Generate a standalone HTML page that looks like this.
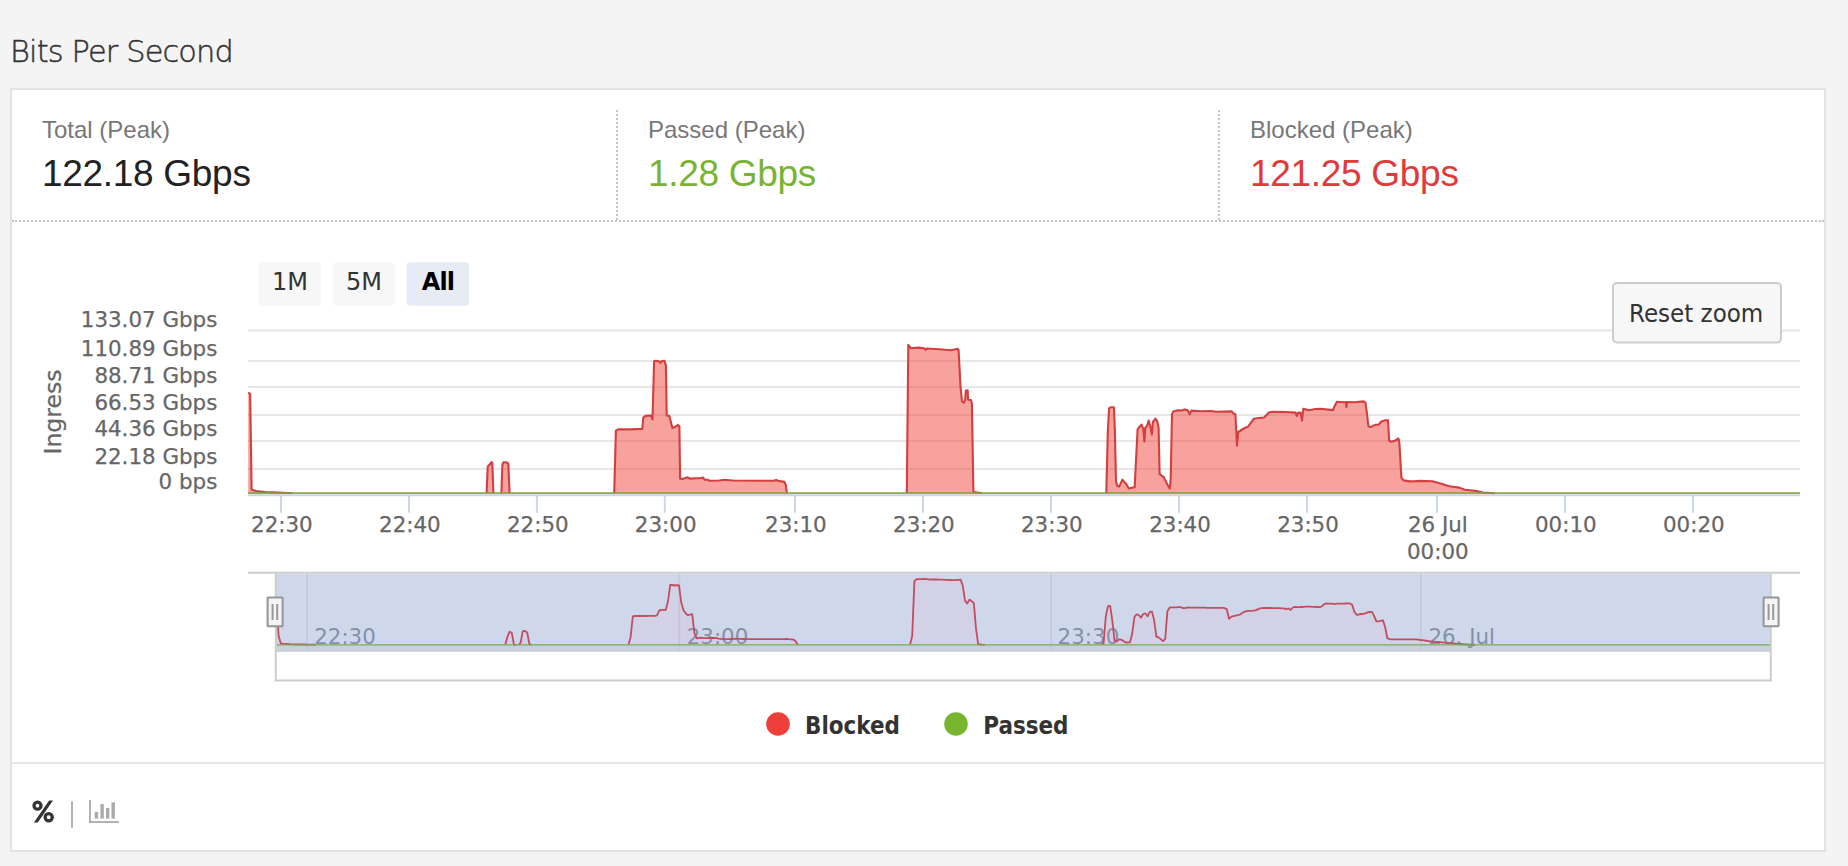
<!DOCTYPE html>
<html><head><meta charset="utf-8"><title>Bits Per Second</title>
<style>
*{box-sizing:border-box;margin:0;padding:0}
html,body{width:1848px;height:866px;overflow:hidden;background:#f4f4f4;font-family:"Liberation Sans",sans-serif}
.title{position:absolute;left:10px;top:34px;font-family:"DejaVu Sans",sans-serif;font-weight:200;font-size:30.4px;letter-spacing:-0.85px;color:#333;-webkit-text-stroke:0.45px #333;white-space:nowrap}
.card{position:absolute;left:10px;top:88px;width:1816px;height:764px;border:2px solid #e2e2e2;background:#fff}
.stats{position:absolute;left:0;top:0;width:1812px;height:132px;border-bottom:2px dotted #c4c4c4}
.sep{position:absolute;top:20px;height:110px;border-left:2px dotted #c4c4c4}
.lbl{position:absolute;font-size:24px;color:#777;white-space:nowrap}
.val{position:absolute;font-size:37px;letter-spacing:-0.3px;color:#222;white-space:nowrap}
.divider{position:absolute;left:0;top:672px;width:1812px;height:2px;background:#e6e6e6}
svg text{font-family:"DejaVu Sans",sans-serif}
svg .ax{font-size:21.4px;fill:#666;stroke:#666;stroke-width:0.25px}
svg .btn{font-size:24px;fill:#333}
svg .btn.b{font-weight:bold;fill:#000;letter-spacing:-0.9px}
svg .rz{font-family:"DejaVu Sans Condensed","DejaVu Sans",sans-serif;font-size:25.6px;fill:#333}
svg .nav{font-size:21.4px;fill:#8490a5}
svg .leg{font-family:"DejaVu Sans Condensed","DejaVu Sans",sans-serif;font-weight:bold;font-size:23.9px;fill:#333}
svg .ing{font-size:23.6px}
.pct{position:absolute;left:31px;top:795px;font-family:"DejaVu Sans",sans-serif;font-weight:bold;font-size:30px;color:#333}
</style></head><body>
<div class="title">Bits Per Second</div>
<div class="card">
  <div class="stats">
    <div class="lbl" style="left:30px;top:26px">Total (Peak)</div>
    <div class="val" style="left:30px;top:63px">122.18 Gbps</div>
    <div class="sep" style="left:604px"></div>
    <div class="lbl" style="left:636px;top:26px">Passed (Peak)</div>
    <div class="val" style="left:636px;top:63px;color:#7ab332">1.28 Gbps</div>
    <div class="sep" style="left:1205.5px"></div>
    <div class="lbl" style="left:1238px;top:26px">Blocked (Peak)</div>
    <div class="val" style="left:1238px;top:63px;color:#e03a3c">121.25 Gbps</div>
  </div>
  <div class="divider"></div>
</div>
<svg width="1848" height="866" style="position:absolute;left:0;top:0">
<rect x="258.5" y="262.6" width="62.5" height="42.8" rx="3" fill="#f7f7f7"/>
<rect x="332.8" y="262.6" width="62.2" height="42.8" rx="3" fill="#f7f7f7"/>
<rect x="406.6" y="262.2" width="62.4" height="43.6" rx="3" fill="#e6ebf5"/>
<text x="290" y="290.2" class="btn" text-anchor="middle">1M</text>
<text x="364" y="290.2" class="btn" text-anchor="middle">5M</text>
<text x="438" y="290.2" class="btn b" text-anchor="middle">All</text>
<line x1="248" x2="1800" y1="330.5" y2="330.5" stroke="#e6e6e6" stroke-width="2"/>
<line x1="248" x2="1800" y1="361" y2="361" stroke="#e6e6e6" stroke-width="2"/>
<line x1="248" x2="1800" y1="387" y2="387" stroke="#e6e6e6" stroke-width="2"/>
<line x1="248" x2="1800" y1="415" y2="415" stroke="#e6e6e6" stroke-width="2"/>
<line x1="248" x2="1800" y1="441" y2="441" stroke="#e6e6e6" stroke-width="2"/>
<line x1="248" x2="1800" y1="469" y2="469" stroke="#e6e6e6" stroke-width="2"/>
<polygon points="248.2,494.2 248.2,392.5 250.2,394.0 251.6,489.4 256.0,491.0 265.0,492.0 278.6,492.6 292.0,493.2 486.6,493.2 487.7,466.7 491.5,462.2 492.3,462.6 493.4,493.2 501.4,493.2 502.4,464.5 503.5,462.3 506.0,462.3 508.3,463.5 509.6,493.2 614.2,493.2 615.9,430.6 618.2,429.4 630.0,429.4 642.3,428.9 643.3,417.6 645.4,415.9 651.1,415.5 652.5,419.3 654.1,361.3 655.5,360.7 659.0,361.2 660.5,362.8 662.0,361.0 664.5,360.7 665.9,365.6 666.7,415.5 669.3,415.9 671.1,422.8 672.4,428.0 676.3,426.3 678.0,424.9 679.4,426.3 680.1,478.7 682.3,479.0 687.7,477.3 689.8,478.6 701.0,478.0 703.1,477.6 704.5,479.7 707.4,479.7 709.5,480.8 719.3,480.5 724.2,479.7 732.7,480.5 773.5,480.8 776.5,480.0 777.7,480.7 784.4,481.9 785.8,485.0 786.9,493.2 906.8,493.2 908.3,344.9 911.0,348.3 918.6,347.6 924.3,348.3 925.5,349.9 927.0,348.5 939.5,349.3 945.0,349.8 951.0,350.2 957.6,348.7 958.6,350.2 960.5,386.4 962.0,401.3 963.9,402.6 965.2,399.8 965.8,390.6 967.7,390.2 968.1,399.8 971.0,400.1 971.9,403.6 973.4,492.1 975.7,492.3 982.0,493.2 1106.3,493.2 1107.8,431.9 1109.1,408.4 1111.0,407.2 1113.9,407.2 1114.8,428.1 1116.0,481.5 1117.3,485.9 1119.2,486.6 1122.4,479.6 1124.3,482.1 1126.2,484.0 1128.8,488.5 1131.9,487.8 1134.7,487.2 1135.7,466.2 1137.6,429.4 1138.9,427.5 1141.5,424.6 1143.4,429.4 1144.4,441.5 1145.3,427.5 1146.9,426.2 1148.7,420.5 1150.4,426.8 1151.9,434.5 1152.9,421.8 1155.4,418.6 1157.3,421.1 1158.6,428.1 1159.6,473.9 1161.8,475.8 1163.7,477.0 1165.6,480.9 1168.1,485.9 1169.8,488.5 1170.7,478.9 1172.0,414.1 1173.2,411.6 1177.7,410.3 1181.5,410.6 1184.8,409.4 1187.7,410.2 1189.7,414.2 1191.3,410.6 1200.2,411.2 1210.7,411.0 1216.4,411.7 1231.7,411.4 1233.3,413.4 1235.4,414.2 1237.0,445.8 1238.2,432.0 1244.6,428.0 1247.9,426.8 1253.5,419.1 1256.8,418.3 1264.0,417.5 1268.9,412.6 1272.9,411.7 1285.0,412.0 1295.6,412.6 1296.9,416.0 1298.2,412.6 1300.7,412.9 1302.0,420.5 1303.3,408.8 1309.0,410.3 1315.3,409.0 1320.4,408.8 1333.1,410.1 1334.4,406.5 1336.9,401.7 1343.3,402.2 1345.8,402.1 1346.4,407.1 1347.0,402.1 1354.7,402.2 1363.6,401.4 1365.5,402.7 1366.7,411.6 1368.4,426.2 1370.6,427.1 1375.0,424.9 1378.8,424.5 1381.3,421.5 1385.2,420.2 1388.0,420.2 1389.2,440.8 1391.5,441.8 1395.3,440.5 1398.5,438.5 1399.4,443.3 1401.4,477.6 1403.6,480.4 1409.3,481.4 1415.0,481.2 1419.3,480.9 1432.3,481.3 1441.4,483.7 1449.2,486.3 1459.5,487.6 1464.7,489.7 1475.1,490.8 1482.9,492.5 1494.6,493.2 1800.0,493.2 1800.0,494.2" fill="rgba(241,70,60,0.5)"/>
<path d="M248.2,392.5 L250.2,394.0 L251.6,489.4 L256.0,491.0 L265.0,492.0 L278.6,492.6 L292.0,493.2 M486.6,493.2 L487.7,466.7 L491.5,462.2 L492.3,462.6 L493.4,493.2 M501.4,493.2 L502.4,464.5 L503.5,462.3 L506.0,462.3 L508.3,463.5 L509.6,493.2 M614.2,493.2 L615.9,430.6 L618.2,429.4 L630.0,429.4 L642.3,428.9 L643.3,417.6 L645.4,415.9 L651.1,415.5 L652.5,419.3 L654.1,361.3 L655.5,360.7 L659.0,361.2 L660.5,362.8 L662.0,361.0 L664.5,360.7 L665.9,365.6 L666.7,415.5 L669.3,415.9 L671.1,422.8 L672.4,428.0 L676.3,426.3 L678.0,424.9 L679.4,426.3 L680.1,478.7 L682.3,479.0 L687.7,477.3 L689.8,478.6 L701.0,478.0 L703.1,477.6 L704.5,479.7 L707.4,479.7 L709.5,480.8 L719.3,480.5 L724.2,479.7 L732.7,480.5 L773.5,480.8 L776.5,480.0 L777.7,480.7 L784.4,481.9 L785.8,485.0 L786.9,493.2 M906.8,493.2 L908.3,344.9 L911.0,348.3 L918.6,347.6 L924.3,348.3 L925.5,349.9 L927.0,348.5 L939.5,349.3 L945.0,349.8 L951.0,350.2 L957.6,348.7 L958.6,350.2 L960.5,386.4 L962.0,401.3 L963.9,402.6 L965.2,399.8 L965.8,390.6 L967.7,390.2 L968.1,399.8 L971.0,400.1 L971.9,403.6 L973.4,492.1 L975.7,492.3 L982.0,493.2 M1106.3,493.2 L1107.8,431.9 L1109.1,408.4 L1111.0,407.2 L1113.9,407.2 L1114.8,428.1 L1116.0,481.5 L1117.3,485.9 L1119.2,486.6 L1122.4,479.6 L1124.3,482.1 L1126.2,484.0 L1128.8,488.5 L1131.9,487.8 L1134.7,487.2 L1135.7,466.2 L1137.6,429.4 L1138.9,427.5 L1141.5,424.6 L1143.4,429.4 L1144.4,441.5 L1145.3,427.5 L1146.9,426.2 L1148.7,420.5 L1150.4,426.8 L1151.9,434.5 L1152.9,421.8 L1155.4,418.6 L1157.3,421.1 L1158.6,428.1 L1159.6,473.9 L1161.8,475.8 L1163.7,477.0 L1165.6,480.9 L1168.1,485.9 L1169.8,488.5 L1170.7,478.9 L1172.0,414.1 L1173.2,411.6 L1177.7,410.3 L1181.5,410.6 L1184.8,409.4 L1187.7,410.2 L1189.7,414.2 L1191.3,410.6 L1200.2,411.2 L1210.7,411.0 L1216.4,411.7 L1231.7,411.4 L1233.3,413.4 L1235.4,414.2 L1237.0,445.8 L1238.2,432.0 L1244.6,428.0 L1247.9,426.8 L1253.5,419.1 L1256.8,418.3 L1264.0,417.5 L1268.9,412.6 L1272.9,411.7 L1285.0,412.0 L1295.6,412.6 L1296.9,416.0 L1298.2,412.6 L1300.7,412.9 L1302.0,420.5 L1303.3,408.8 L1309.0,410.3 L1315.3,409.0 L1320.4,408.8 L1333.1,410.1 L1334.4,406.5 L1336.9,401.7 L1343.3,402.2 L1345.8,402.1 L1346.4,407.1 L1347.0,402.1 L1354.7,402.2 L1363.6,401.4 L1365.5,402.7 L1366.7,411.6 L1368.4,426.2 L1370.6,427.1 L1375.0,424.9 L1378.8,424.5 L1381.3,421.5 L1385.2,420.2 L1388.0,420.2 L1389.2,440.8 L1391.5,441.8 L1395.3,440.5 L1398.5,438.5 L1399.4,443.3 L1401.4,477.6 L1403.6,480.4 L1409.3,481.4 L1415.0,481.2 L1419.3,480.9 L1432.3,481.3 L1441.4,483.7 L1449.2,486.3 L1459.5,487.6 L1464.7,489.7 L1475.1,490.8 L1482.9,492.5 L1494.6,493.2 M1800.0,493.2" fill="none" stroke="#d23f40" stroke-width="2.1" stroke-linejoin="round"/>
<line x1="248" x2="1800" y1="493.0" y2="493.0" stroke="#7da645" stroke-width="1.4"/>
<line x1="248" x2="1800" y1="495.2" y2="495.2" stroke="#ccd6eb" stroke-width="2"/>
<line x1="281.0" x2="281.0" y1="495" y2="512.8" stroke="#ccd6eb" stroke-width="2"/>
<line x1="409.0" x2="409.0" y1="495" y2="512.8" stroke="#ccd6eb" stroke-width="2"/>
<line x1="536.9" x2="536.9" y1="495" y2="512.8" stroke="#ccd6eb" stroke-width="2"/>
<line x1="664.8" x2="664.8" y1="495" y2="512.8" stroke="#ccd6eb" stroke-width="2"/>
<line x1="795.0" x2="795.0" y1="495" y2="512.8" stroke="#ccd6eb" stroke-width="2"/>
<line x1="923.0" x2="923.0" y1="495" y2="512.8" stroke="#ccd6eb" stroke-width="2"/>
<line x1="1050.9" x2="1050.9" y1="495" y2="512.8" stroke="#ccd6eb" stroke-width="2"/>
<line x1="1179.1" x2="1179.1" y1="495" y2="512.8" stroke="#ccd6eb" stroke-width="2"/>
<line x1="1307.1" x2="1307.1" y1="495" y2="512.8" stroke="#ccd6eb" stroke-width="2"/>
<line x1="1436.9" x2="1436.9" y1="495" y2="512.8" stroke="#ccd6eb" stroke-width="2"/>
<line x1="1564.9" x2="1564.9" y1="495" y2="512.8" stroke="#ccd6eb" stroke-width="2"/>
<line x1="1692.9" x2="1692.9" y1="495" y2="512.8" stroke="#ccd6eb" stroke-width="2"/>
<text x="281.9" y="531.6" class="ax" text-anchor="middle">22:30</text>
<text x="409.9" y="531.6" class="ax" text-anchor="middle">22:40</text>
<text x="537.8" y="531.6" class="ax" text-anchor="middle">22:50</text>
<text x="665.7" y="531.6" class="ax" text-anchor="middle">23:00</text>
<text x="795.9" y="531.6" class="ax" text-anchor="middle">23:10</text>
<text x="923.9" y="531.6" class="ax" text-anchor="middle">23:20</text>
<text x="1051.8" y="531.6" class="ax" text-anchor="middle">23:30</text>
<text x="1180.0" y="531.6" class="ax" text-anchor="middle">23:40</text>
<text x="1308.0" y="531.6" class="ax" text-anchor="middle">23:50</text>
<text x="1437.8" y="531.6" class="ax" text-anchor="middle">26 Jul</text>
<text x="1565.8" y="531.6" class="ax" text-anchor="middle">00:10</text>
<text x="1693.8" y="531.6" class="ax" text-anchor="middle">00:20</text>
<text x="1437.8" y="559.2" class="ax" text-anchor="middle">00:00</text>
<text x="217.3" y="327.4" class="ax" text-anchor="end">133.07 Gbps</text>
<text x="217.3" y="356.4" class="ax" text-anchor="end">110.89 Gbps</text>
<text x="217.3" y="382.6" class="ax" text-anchor="end">88.71 Gbps</text>
<text x="217.3" y="409.6" class="ax" text-anchor="end">66.53 Gbps</text>
<text x="217.3" y="435.8" class="ax" text-anchor="end">44.36 Gbps</text>
<text x="217.3" y="463.6" class="ax" text-anchor="end">22.18 Gbps</text>
<text x="217.3" y="489.2" class="ax" text-anchor="end">0 bps</text>
<text class="ax ing" transform="translate(60.5,412) rotate(-90)" text-anchor="middle">Ingress</text>
<rect x="1613" y="283" width="168" height="59.5" rx="4" fill="#f7f7f7" stroke="#cccccc" stroke-width="2"/>
<text x="1696.2" y="322.4" class="rz" text-anchor="middle">Reset zoom</text>
<line x1="248" x2="1800" y1="572.8" y2="572.8" stroke="#cccccc" stroke-width="2"/>
<rect x="275.0" y="573.5" width="1496.0" height="78" fill="#cfd8ea"/>
<rect x="275.0" y="645.5" width="1496.0" height="6.2" fill="#c8d0dc"/>
<line x1="307.1" x2="307.1" y1="573.5" y2="651.5" stroke="#c2cadb" stroke-width="1.6"/>
<line x1="679.4" x2="679.4" y1="573.5" y2="651.5" stroke="#c2cadb" stroke-width="1.6"/>
<line x1="1051.2" x2="1051.2" y1="573.5" y2="651.5" stroke="#c2cadb" stroke-width="1.6"/>
<line x1="1420.9" x2="1420.9" y1="573.5" y2="651.5" stroke="#c2cadb" stroke-width="1.6"/>
<text x="314.2" y="643.6" class="nav">22:30</text>
<text x="686.7" y="643.6" class="nav">23:00</text>
<text x="1057.6" y="643.6" class="nav">23:30</text>
<text x="1428.4" y="643.6" class="nav">26. Jul</text>
<polygon points="275.0,644.8 275.5,600.5 276.4,600.5 278.6,635.8 280.8,643.5 283.0,643.8 285.2,643.9 287.4,644.0 289.6,644.2 291.8,644.3 294.0,644.3 296.2,644.4 298.4,644.4 300.6,644.4 302.8,644.5 305.0,644.5 307.2,644.6 309.4,644.6 311.6,644.7 313.8,644.7 316.0,644.8 318.2,644.8 320.4,644.8 322.6,644.8 324.8,644.8 327.0,644.8 329.2,644.8 331.4,644.8 333.6,644.8 335.8,644.8 338.0,644.8 340.2,644.8 342.4,644.8 344.6,644.8 346.8,644.8 349.0,644.8 351.2,644.8 353.4,644.8 355.6,644.8 357.8,644.8 360.0,644.8 362.2,644.8 364.4,644.8 366.6,644.8 368.8,644.8 371.0,644.8 373.2,644.8 375.4,644.8 377.6,644.8 379.8,644.8 382.0,644.8 384.2,644.8 386.4,644.8 388.6,644.8 390.8,644.8 393.0,644.8 395.2,644.8 397.4,644.8 399.6,644.8 401.8,644.8 404.0,644.8 406.2,644.8 408.4,644.8 410.6,644.8 412.8,644.8 415.0,644.8 417.2,644.8 419.4,644.8 421.6,644.8 423.8,644.8 426.0,644.8 428.2,644.8 430.4,644.8 432.6,644.8 434.8,644.8 437.0,644.8 439.2,644.8 441.4,644.8 443.6,644.8 445.8,644.8 448.0,644.8 450.2,644.8 452.4,644.8 454.6,644.8 456.8,644.8 459.0,644.8 461.2,644.8 463.4,644.8 465.6,644.8 467.8,644.8 470.0,644.8 472.2,644.8 474.4,644.8 476.6,644.8 478.8,644.8 481.0,644.8 483.2,644.8 485.4,644.8 487.6,644.8 489.8,644.8 492.0,644.8 494.2,644.8 496.4,644.8 498.6,644.8 500.8,644.8 503.0,644.8 505.2,644.8 507.4,636.9 509.6,631.7 511.8,632.9 514.0,644.6 516.2,644.8 518.4,644.8 520.6,642.8 522.8,631.2 525.0,630.9 527.2,632.5 529.4,644.1 531.6,644.8 533.8,644.8 536.0,644.8 538.2,644.8 540.4,644.8 542.6,644.8 544.8,644.8 547.0,644.8 549.2,644.8 551.4,644.8 553.6,644.8 555.8,644.8 558.0,644.8 560.2,644.8 562.4,644.8 564.6,644.8 566.8,644.8 569.0,644.8 571.2,644.8 573.4,644.8 575.6,644.8 577.8,644.8 580.0,644.8 582.2,644.8 584.4,644.8 586.6,644.8 588.8,644.8 591.0,644.8 593.2,644.8 595.4,644.8 597.6,644.8 599.8,644.8 602.0,644.8 604.2,644.8 606.4,644.8 608.6,644.8 610.8,644.8 613.0,644.8 615.2,644.8 617.4,644.8 619.6,644.8 621.8,644.8 624.0,644.8 626.2,644.8 628.4,644.8 630.6,637.2 632.8,616.5 635.0,616.0 637.2,616.0 639.4,616.0 641.6,616.0 643.8,616.0 646.0,616.0 648.2,615.9 650.4,615.9 652.6,615.8 654.8,615.8 657.0,615.4 659.2,610.6 661.4,609.8 663.6,609.8 665.8,609.9 668.0,601.2 670.2,585.0 672.4,585.0 674.6,585.5 676.8,585.2 679.0,585.3 681.2,602.3 683.4,610.0 685.6,613.2 687.8,615.1 690.0,614.6 692.2,614.2 694.4,633.1 696.6,638.3 698.8,638.0 701.0,637.7 703.2,638.1 705.4,638.2 707.6,638.1 709.8,638.0 712.0,638.0 714.2,637.9 716.4,638.0 718.6,638.7 720.8,638.8 723.0,639.2 725.2,639.2 727.4,639.1 729.6,639.1 731.8,639.0 734.0,638.9 736.2,638.7 738.4,638.8 740.6,638.9 742.8,639.0 745.0,639.1 747.2,639.1 749.4,639.1 751.6,639.1 753.8,639.1 756.0,639.1 758.2,639.1 760.4,639.1 762.6,639.1 764.8,639.1 767.0,639.1 769.2,639.1 771.4,639.2 773.6,639.2 775.8,639.2 778.0,639.2 780.2,639.2 782.4,639.2 784.6,639.1 786.8,638.9 789.0,639.2 791.2,639.4 793.4,639.6 795.6,641.2 797.8,644.8 800.0,644.8 802.2,644.8 804.4,644.8 806.6,644.8 808.8,644.8 811.0,644.8 813.2,644.8 815.4,644.8 817.6,644.8 819.8,644.8 822.0,644.8 824.2,644.8 826.4,644.8 828.6,644.8 830.8,644.8 833.0,644.8 835.2,644.8 837.4,644.8 839.6,644.8 841.8,644.8 844.0,644.8 846.2,644.8 848.4,644.8 850.6,644.8 852.8,644.8 855.0,644.8 857.2,644.8 859.4,644.8 861.6,644.8 863.8,644.8 866.0,644.8 868.2,644.8 870.4,644.8 872.6,644.8 874.8,644.8 877.0,644.8 879.2,644.8 881.4,644.8 883.6,644.8 885.8,644.8 888.0,644.8 890.2,644.8 892.4,644.8 894.6,644.8 896.8,644.8 899.0,644.8 901.2,644.8 903.4,644.8 905.6,644.8 907.8,644.8 910.0,644.8 912.2,636.1 914.4,581.1 916.6,579.2 918.8,579.2 921.0,579.1 923.2,579.0 925.4,579.1 927.6,579.2 929.8,579.6 932.0,579.5 934.2,579.5 936.4,579.5 938.6,579.6 940.8,579.7 943.0,579.7 945.2,579.8 947.4,579.9 949.6,580.0 951.8,580.1 954.0,580.1 956.2,580.0 958.4,579.8 960.6,579.6 962.8,585.8 965.0,600.6 967.2,603.5 969.4,599.6 971.6,601.2 973.8,602.9 976.0,628.6 978.2,644.4 980.4,644.5 982.6,644.7 984.8,644.8 987.0,644.8 989.2,644.8 991.4,644.8 993.6,644.8 995.8,644.8 998.0,644.8 1000.2,644.8 1002.4,644.8 1004.6,644.8 1006.8,644.8 1009.0,644.8 1011.2,644.8 1013.4,644.8 1015.6,644.8 1017.8,644.8 1020.0,644.8 1022.2,644.8 1024.4,644.8 1026.6,644.8 1028.8,644.8 1031.0,644.8 1033.2,644.8 1035.4,644.8 1037.6,644.8 1039.8,644.8 1042.0,644.8 1044.2,644.8 1046.4,644.8 1048.6,644.8 1050.8,644.8 1053.0,644.8 1055.2,644.8 1057.4,644.8 1059.6,644.8 1061.8,644.8 1064.0,644.8 1066.2,644.8 1068.4,644.8 1070.6,644.8 1072.8,644.8 1075.0,644.8 1077.2,644.8 1079.4,644.8 1081.6,644.8 1083.8,644.8 1086.0,644.8 1088.2,644.8 1090.4,644.8 1092.6,644.8 1094.8,644.8 1097.0,644.8 1099.2,644.8 1101.4,644.8 1103.6,643.1 1105.8,616.3 1108.0,606.1 1110.2,605.9 1112.4,621.2 1114.6,641.1 1116.8,641.3 1119.0,639.3 1121.2,639.7 1123.4,640.9 1125.6,642.4 1127.8,642.5 1130.0,642.2 1132.2,633.6 1134.4,617.0 1136.6,614.4 1138.8,615.0 1141.0,617.7 1143.2,614.0 1145.4,613.3 1147.6,616.2 1149.8,611.9 1152.0,611.6 1154.2,620.5 1156.4,636.6 1158.6,637.4 1160.8,639.1 1163.0,641.2 1165.2,639.2 1167.4,611.3 1169.6,607.7 1171.8,607.4 1174.0,607.4 1176.2,607.4 1178.4,607.1 1180.6,607.1 1182.8,608.0 1185.0,608.1 1187.2,607.5 1189.4,607.6 1191.6,607.7 1193.8,607.7 1196.0,607.7 1198.2,607.7 1200.4,607.7 1202.6,607.7 1204.8,607.7 1207.0,607.8 1209.2,607.9 1211.4,607.9 1213.6,607.9 1215.8,607.9 1218.0,607.9 1220.2,607.9 1222.4,607.8 1224.6,608.2 1226.8,609.1 1229.0,618.8 1231.2,616.9 1233.4,616.2 1235.6,615.6 1237.8,615.1 1240.0,614.5 1242.2,613.1 1244.4,611.7 1246.6,611.1 1248.8,610.9 1251.0,610.8 1253.2,610.7 1255.4,610.4 1257.6,609.4 1259.8,608.4 1262.0,608.1 1264.2,608.0 1266.4,608.0 1268.6,608.0 1270.8,608.0 1273.0,608.1 1275.2,608.1 1277.4,608.2 1279.6,608.2 1281.8,608.3 1284.0,608.3 1286.2,609.2 1288.4,608.5 1290.6,609.9 1292.8,607.5 1295.0,606.9 1297.2,607.2 1299.4,607.2 1301.6,607.0 1303.8,606.8 1306.0,606.7 1308.2,606.7 1310.4,606.7 1312.6,606.8 1314.8,606.9 1317.0,607.0 1319.2,607.1 1321.4,606.7 1323.6,604.6 1325.8,603.5 1328.0,603.6 1330.2,603.6 1332.4,603.7 1334.6,604.2 1336.8,603.6 1339.0,603.7 1341.2,603.7 1343.4,603.6 1345.6,603.5 1347.8,603.4 1350.0,603.4 1352.2,604.8 1354.4,611.9 1356.6,614.8 1358.8,614.5 1361.0,614.0 1363.2,613.8 1365.4,613.4 1367.6,612.4 1369.8,612.0 1372.0,611.8 1374.2,616.1 1376.4,621.4 1378.6,621.3 1380.8,620.9 1383.0,620.4 1385.2,627.2 1387.4,638.2 1389.6,639.1 1391.8,639.3 1394.0,639.4 1396.2,639.4 1398.4,639.4 1400.6,639.3 1402.8,639.3 1405.0,639.3 1407.2,639.3 1409.4,639.3 1411.6,639.4 1413.8,639.4 1416.0,639.4 1418.2,639.7 1420.4,640.0 1422.6,640.2 1424.8,640.5 1427.0,640.8 1429.2,641.2 1431.4,641.5 1433.6,641.8 1435.8,641.9 1438.0,642.0 1440.2,642.1 1442.4,642.3 1444.6,642.7 1446.8,643.1 1449.0,643.3 1451.2,643.4 1453.4,643.5 1455.6,643.6 1457.8,643.8 1460.0,644.0 1462.2,644.2 1464.4,644.4 1466.6,644.5 1468.8,644.6 1471.0,644.7 1473.2,644.7 1475.4,644.8 1477.6,644.8 1479.8,644.8 1482.0,644.8 1484.2,644.8 1486.4,644.8 1488.6,644.8 1490.8,644.8 1493.0,644.8 1495.2,644.8 1497.4,644.8 1499.6,644.8 1501.8,644.8 1504.0,644.8 1506.2,644.8 1508.4,644.8 1510.6,644.8 1512.8,644.8 1515.0,644.8 1517.2,644.8 1519.4,644.8 1521.6,644.8 1523.8,644.8 1526.0,644.8 1528.2,644.8 1530.4,644.8 1532.6,644.8 1534.8,644.8 1537.0,644.8 1539.2,644.8 1541.4,644.8 1543.6,644.8 1545.8,644.8 1548.0,644.8 1550.2,644.8 1552.4,644.8 1554.6,644.8 1556.8,644.8 1559.0,644.8 1561.2,644.8 1563.4,644.8 1565.6,644.8 1567.8,644.8 1570.0,644.8 1572.2,644.8 1574.4,644.8 1576.6,644.8 1578.8,644.8 1581.0,644.8 1583.2,644.8 1585.4,644.8 1587.6,644.8 1589.8,644.8 1592.0,644.8 1594.2,644.8 1596.4,644.8 1598.6,644.8 1600.8,644.8 1603.0,644.8 1605.2,644.8 1607.4,644.8 1609.6,644.8 1611.8,644.8 1614.0,644.8 1616.2,644.8 1618.4,644.8 1620.6,644.8 1622.8,644.8 1625.0,644.8 1627.2,644.8 1629.4,644.8 1631.6,644.8 1633.8,644.8 1636.0,644.8 1638.2,644.8 1640.4,644.8 1642.6,644.8 1644.8,644.8 1647.0,644.8 1649.2,644.8 1651.4,644.8 1653.6,644.8 1655.8,644.8 1658.0,644.8 1660.2,644.8 1662.4,644.8 1664.6,644.8 1666.8,644.8 1669.0,644.8 1671.2,644.8 1673.4,644.8 1675.6,644.8 1677.8,644.8 1680.0,644.8 1682.2,644.8 1684.4,644.8 1686.6,644.8 1688.8,644.8 1691.0,644.8 1693.2,644.8 1695.4,644.8 1697.6,644.8 1699.8,644.8 1702.0,644.8 1704.2,644.8 1706.4,644.8 1708.6,644.8 1710.8,644.8 1713.0,644.8 1715.2,644.8 1717.4,644.8 1719.6,644.8 1721.8,644.8 1724.0,644.8 1726.2,644.8 1728.4,644.8 1730.6,644.8 1732.8,644.8 1735.0,644.8 1737.2,644.8 1739.4,644.8 1741.6,644.8 1743.8,644.8 1746.0,644.8 1748.2,644.8 1750.4,644.8 1752.6,644.8 1754.8,644.8 1757.0,644.8 1759.2,644.8 1761.4,644.8 1763.6,644.8 1765.8,644.8 1768.0,644.8 1770.2,644.8 1771.0,644.8" fill="rgba(255,150,190,0.1)"/>
<path d="M275.5,600.5 L276.4,600.5 L278.6,635.8 L280.8,643.5 L283.0,643.8 L285.2,643.9 L287.4,644.0 L289.6,644.2 L291.8,644.3 L294.0,644.3 L296.2,644.4 L298.4,644.4 L300.6,644.4 L302.8,644.5 L305.0,644.5 L307.2,644.6 L309.4,644.6 L311.6,644.7 L313.8,644.7 L316.0,644.8 M318.2,644.8 M320.4,644.8 M322.6,644.8 M324.8,644.8 M327.0,644.8 M329.2,644.8 M331.4,644.8 M333.6,644.8 M335.8,644.8 M338.0,644.8 M340.2,644.8 M342.4,644.8 M344.6,644.8 M346.8,644.8 M349.0,644.8 M351.2,644.8 M353.4,644.8 M355.6,644.8 M357.8,644.8 M360.0,644.8 M362.2,644.8 M364.4,644.8 M366.6,644.8 M368.8,644.8 M371.0,644.8 M373.2,644.8 M375.4,644.8 M377.6,644.8 M379.8,644.8 M382.0,644.8 M384.2,644.8 M386.4,644.8 M388.6,644.8 M390.8,644.8 M393.0,644.8 M395.2,644.8 M397.4,644.8 M399.6,644.8 M401.8,644.8 M404.0,644.8 M406.2,644.8 M408.4,644.8 M410.6,644.8 M412.8,644.8 M415.0,644.8 M417.2,644.8 M419.4,644.8 M421.6,644.8 M423.8,644.8 M426.0,644.8 M428.2,644.8 M430.4,644.8 M432.6,644.8 M434.8,644.8 M437.0,644.8 M439.2,644.8 M441.4,644.8 M443.6,644.8 M445.8,644.8 M448.0,644.8 M450.2,644.8 M452.4,644.8 M454.6,644.8 M456.8,644.8 M459.0,644.8 M461.2,644.8 M463.4,644.8 M465.6,644.8 M467.8,644.8 M470.0,644.8 M472.2,644.8 M474.4,644.8 M476.6,644.8 M478.8,644.8 M481.0,644.8 M483.2,644.8 M485.4,644.8 M487.6,644.8 M489.8,644.8 M492.0,644.8 M494.2,644.8 M496.4,644.8 M498.6,644.8 M500.8,644.8 M503.0,644.8 M505.2,644.8 L507.4,636.9 L509.6,631.7 L511.8,632.9 L514.0,644.6 L516.2,644.8 M518.4,644.8 L520.6,642.8 L522.8,631.2 L525.0,630.9 L527.2,632.5 L529.4,644.1 L531.6,644.8 M533.8,644.8 M536.0,644.8 M538.2,644.8 M540.4,644.8 M542.6,644.8 M544.8,644.8 M547.0,644.8 M549.2,644.8 M551.4,644.8 M553.6,644.8 M555.8,644.8 M558.0,644.8 M560.2,644.8 M562.4,644.8 M564.6,644.8 M566.8,644.8 M569.0,644.8 M571.2,644.8 M573.4,644.8 M575.6,644.8 M577.8,644.8 M580.0,644.8 M582.2,644.8 M584.4,644.8 M586.6,644.8 M588.8,644.8 M591.0,644.8 M593.2,644.8 M595.4,644.8 M597.6,644.8 M599.8,644.8 M602.0,644.8 M604.2,644.8 M606.4,644.8 M608.6,644.8 M610.8,644.8 M613.0,644.8 M615.2,644.8 M617.4,644.8 M619.6,644.8 M621.8,644.8 M624.0,644.8 M626.2,644.8 M628.4,644.8 L630.6,637.2 L632.8,616.5 L635.0,616.0 L637.2,616.0 L639.4,616.0 L641.6,616.0 L643.8,616.0 L646.0,616.0 L648.2,615.9 L650.4,615.9 L652.6,615.8 L654.8,615.8 L657.0,615.4 L659.2,610.6 L661.4,609.8 L663.6,609.8 L665.8,609.9 L668.0,601.2 L670.2,585.0 L672.4,585.0 L674.6,585.5 L676.8,585.2 L679.0,585.3 L681.2,602.3 L683.4,610.0 L685.6,613.2 L687.8,615.1 L690.0,614.6 L692.2,614.2 L694.4,633.1 L696.6,638.3 L698.8,638.0 L701.0,637.7 L703.2,638.1 L705.4,638.2 L707.6,638.1 L709.8,638.0 L712.0,638.0 L714.2,637.9 L716.4,638.0 L718.6,638.7 L720.8,638.8 L723.0,639.2 L725.2,639.2 L727.4,639.1 L729.6,639.1 L731.8,639.0 L734.0,638.9 L736.2,638.7 L738.4,638.8 L740.6,638.9 L742.8,639.0 L745.0,639.1 L747.2,639.1 L749.4,639.1 L751.6,639.1 L753.8,639.1 L756.0,639.1 L758.2,639.1 L760.4,639.1 L762.6,639.1 L764.8,639.1 L767.0,639.1 L769.2,639.1 L771.4,639.2 L773.6,639.2 L775.8,639.2 L778.0,639.2 L780.2,639.2 L782.4,639.2 L784.6,639.1 L786.8,638.9 L789.0,639.2 L791.2,639.4 L793.4,639.6 L795.6,641.2 L797.8,644.8 M800.0,644.8 M802.2,644.8 M804.4,644.8 M806.6,644.8 M808.8,644.8 M811.0,644.8 M813.2,644.8 M815.4,644.8 M817.6,644.8 M819.8,644.8 M822.0,644.8 M824.2,644.8 M826.4,644.8 M828.6,644.8 M830.8,644.8 M833.0,644.8 M835.2,644.8 M837.4,644.8 M839.6,644.8 M841.8,644.8 M844.0,644.8 M846.2,644.8 M848.4,644.8 M850.6,644.8 M852.8,644.8 M855.0,644.8 M857.2,644.8 M859.4,644.8 M861.6,644.8 M863.8,644.8 M866.0,644.8 M868.2,644.8 M870.4,644.8 M872.6,644.8 M874.8,644.8 M877.0,644.8 M879.2,644.8 M881.4,644.8 M883.6,644.8 M885.8,644.8 M888.0,644.8 M890.2,644.8 M892.4,644.8 M894.6,644.8 M896.8,644.8 M899.0,644.8 M901.2,644.8 M903.4,644.8 M905.6,644.8 M907.8,644.8 M910.0,644.8 L912.2,636.1 L914.4,581.1 L916.6,579.2 L918.8,579.2 L921.0,579.1 L923.2,579.0 L925.4,579.1 L927.6,579.2 L929.8,579.6 L932.0,579.5 L934.2,579.5 L936.4,579.5 L938.6,579.6 L940.8,579.7 L943.0,579.7 L945.2,579.8 L947.4,579.9 L949.6,580.0 L951.8,580.1 L954.0,580.1 L956.2,580.0 L958.4,579.8 L960.6,579.6 L962.8,585.8 L965.0,600.6 L967.2,603.5 L969.4,599.6 L971.6,601.2 L973.8,602.9 L976.0,628.6 L978.2,644.4 L980.4,644.5 L982.6,644.7 L984.8,644.8 M987.0,644.8 M989.2,644.8 M991.4,644.8 M993.6,644.8 M995.8,644.8 M998.0,644.8 M1000.2,644.8 M1002.4,644.8 M1004.6,644.8 M1006.8,644.8 M1009.0,644.8 M1011.2,644.8 M1013.4,644.8 M1015.6,644.8 M1017.8,644.8 M1020.0,644.8 M1022.2,644.8 M1024.4,644.8 M1026.6,644.8 M1028.8,644.8 M1031.0,644.8 M1033.2,644.8 M1035.4,644.8 M1037.6,644.8 M1039.8,644.8 M1042.0,644.8 M1044.2,644.8 M1046.4,644.8 M1048.6,644.8 M1050.8,644.8 M1053.0,644.8 M1055.2,644.8 M1057.4,644.8 M1059.6,644.8 M1061.8,644.8 M1064.0,644.8 M1066.2,644.8 M1068.4,644.8 M1070.6,644.8 M1072.8,644.8 M1075.0,644.8 M1077.2,644.8 M1079.4,644.8 M1081.6,644.8 M1083.8,644.8 M1086.0,644.8 M1088.2,644.8 M1090.4,644.8 M1092.6,644.8 M1094.8,644.8 M1097.0,644.8 M1099.2,644.8 M1101.4,644.8 L1103.6,643.1 L1105.8,616.3 L1108.0,606.1 L1110.2,605.9 L1112.4,621.2 L1114.6,641.1 L1116.8,641.3 L1119.0,639.3 L1121.2,639.7 L1123.4,640.9 L1125.6,642.4 L1127.8,642.5 L1130.0,642.2 L1132.2,633.6 L1134.4,617.0 L1136.6,614.4 L1138.8,615.0 L1141.0,617.7 L1143.2,614.0 L1145.4,613.3 L1147.6,616.2 L1149.8,611.9 L1152.0,611.6 L1154.2,620.5 L1156.4,636.6 L1158.6,637.4 L1160.8,639.1 L1163.0,641.2 L1165.2,639.2 L1167.4,611.3 L1169.6,607.7 L1171.8,607.4 L1174.0,607.4 L1176.2,607.4 L1178.4,607.1 L1180.6,607.1 L1182.8,608.0 L1185.0,608.1 L1187.2,607.5 L1189.4,607.6 L1191.6,607.7 L1193.8,607.7 L1196.0,607.7 L1198.2,607.7 L1200.4,607.7 L1202.6,607.7 L1204.8,607.7 L1207.0,607.8 L1209.2,607.9 L1211.4,607.9 L1213.6,607.9 L1215.8,607.9 L1218.0,607.9 L1220.2,607.9 L1222.4,607.8 L1224.6,608.2 L1226.8,609.1 L1229.0,618.8 L1231.2,616.9 L1233.4,616.2 L1235.6,615.6 L1237.8,615.1 L1240.0,614.5 L1242.2,613.1 L1244.4,611.7 L1246.6,611.1 L1248.8,610.9 L1251.0,610.8 L1253.2,610.7 L1255.4,610.4 L1257.6,609.4 L1259.8,608.4 L1262.0,608.1 L1264.2,608.0 L1266.4,608.0 L1268.6,608.0 L1270.8,608.0 L1273.0,608.1 L1275.2,608.1 L1277.4,608.2 L1279.6,608.2 L1281.8,608.3 L1284.0,608.3 L1286.2,609.2 L1288.4,608.5 L1290.6,609.9 L1292.8,607.5 L1295.0,606.9 L1297.2,607.2 L1299.4,607.2 L1301.6,607.0 L1303.8,606.8 L1306.0,606.7 L1308.2,606.7 L1310.4,606.7 L1312.6,606.8 L1314.8,606.9 L1317.0,607.0 L1319.2,607.1 L1321.4,606.7 L1323.6,604.6 L1325.8,603.5 L1328.0,603.6 L1330.2,603.6 L1332.4,603.7 L1334.6,604.2 L1336.8,603.6 L1339.0,603.7 L1341.2,603.7 L1343.4,603.6 L1345.6,603.5 L1347.8,603.4 L1350.0,603.4 L1352.2,604.8 L1354.4,611.9 L1356.6,614.8 L1358.8,614.5 L1361.0,614.0 L1363.2,613.8 L1365.4,613.4 L1367.6,612.4 L1369.8,612.0 L1372.0,611.8 L1374.2,616.1 L1376.4,621.4 L1378.6,621.3 L1380.8,620.9 L1383.0,620.4 L1385.2,627.2 L1387.4,638.2 L1389.6,639.1 L1391.8,639.3 L1394.0,639.4 L1396.2,639.4 L1398.4,639.4 L1400.6,639.3 L1402.8,639.3 L1405.0,639.3 L1407.2,639.3 L1409.4,639.3 L1411.6,639.4 L1413.8,639.4 L1416.0,639.4 L1418.2,639.7 L1420.4,640.0 L1422.6,640.2 L1424.8,640.5 L1427.0,640.8 L1429.2,641.2 L1431.4,641.5 L1433.6,641.8 L1435.8,641.9 L1438.0,642.0 L1440.2,642.1 L1442.4,642.3 L1444.6,642.7 L1446.8,643.1 L1449.0,643.3 L1451.2,643.4 L1453.4,643.5 L1455.6,643.6 L1457.8,643.8 L1460.0,644.0 L1462.2,644.2 L1464.4,644.4 L1466.6,644.5 L1468.8,644.6 L1471.0,644.7 L1473.2,644.7 L1475.4,644.8 M1477.6,644.8 M1479.8,644.8 M1482.0,644.8 M1484.2,644.8 M1486.4,644.8 M1488.6,644.8 M1490.8,644.8 M1493.0,644.8 M1495.2,644.8 M1497.4,644.8 M1499.6,644.8 M1501.8,644.8 M1504.0,644.8 M1506.2,644.8 M1508.4,644.8 M1510.6,644.8 M1512.8,644.8 M1515.0,644.8 M1517.2,644.8 M1519.4,644.8 M1521.6,644.8 M1523.8,644.8 M1526.0,644.8 M1528.2,644.8 M1530.4,644.8 M1532.6,644.8 M1534.8,644.8 M1537.0,644.8 M1539.2,644.8 M1541.4,644.8 M1543.6,644.8 M1545.8,644.8 M1548.0,644.8 M1550.2,644.8 M1552.4,644.8 M1554.6,644.8 M1556.8,644.8 M1559.0,644.8 M1561.2,644.8 M1563.4,644.8 M1565.6,644.8 M1567.8,644.8 M1570.0,644.8 M1572.2,644.8 M1574.4,644.8 M1576.6,644.8 M1578.8,644.8 M1581.0,644.8 M1583.2,644.8 M1585.4,644.8 M1587.6,644.8 M1589.8,644.8 M1592.0,644.8 M1594.2,644.8 M1596.4,644.8 M1598.6,644.8 M1600.8,644.8 M1603.0,644.8 M1605.2,644.8 M1607.4,644.8 M1609.6,644.8 M1611.8,644.8 M1614.0,644.8 M1616.2,644.8 M1618.4,644.8 M1620.6,644.8 M1622.8,644.8 M1625.0,644.8 M1627.2,644.8 M1629.4,644.8 M1631.6,644.8 M1633.8,644.8 M1636.0,644.8 M1638.2,644.8 M1640.4,644.8 M1642.6,644.8 M1644.8,644.8 M1647.0,644.8 M1649.2,644.8 M1651.4,644.8 M1653.6,644.8 M1655.8,644.8 M1658.0,644.8 M1660.2,644.8 M1662.4,644.8 M1664.6,644.8 M1666.8,644.8 M1669.0,644.8 M1671.2,644.8 M1673.4,644.8 M1675.6,644.8 M1677.8,644.8 M1680.0,644.8 M1682.2,644.8 M1684.4,644.8 M1686.6,644.8 M1688.8,644.8 M1691.0,644.8 M1693.2,644.8 M1695.4,644.8 M1697.6,644.8 M1699.8,644.8 M1702.0,644.8 M1704.2,644.8 M1706.4,644.8 M1708.6,644.8 M1710.8,644.8 M1713.0,644.8 M1715.2,644.8 M1717.4,644.8 M1719.6,644.8 M1721.8,644.8 M1724.0,644.8 M1726.2,644.8 M1728.4,644.8 M1730.6,644.8 M1732.8,644.8 M1735.0,644.8 M1737.2,644.8 M1739.4,644.8 M1741.6,644.8 M1743.8,644.8 M1746.0,644.8 M1748.2,644.8 M1750.4,644.8 M1752.6,644.8 M1754.8,644.8 M1757.0,644.8 M1759.2,644.8 M1761.4,644.8 M1763.6,644.8 M1765.8,644.8 M1768.0,644.8 M1770.2,644.8" fill="none" stroke="#c04d60" stroke-width="1.8" stroke-linejoin="round"/>
<line x1="275.0" x2="1771.0" y1="644.9" y2="644.9" stroke="#7aaa55" stroke-width="1.4"/>
<path d="M275.8 573.5 V680.4 H1770.8 V573.5" fill="none" stroke="#cccccc" stroke-width="2"/>
<rect x="267.6" y="597.5" width="15" height="28.8" rx="0.5" fill="#f4f4f4" stroke="#959595" stroke-width="2"/>
<line x1="272.6" x2="272.6" y1="604" y2="620" stroke="#999" stroke-width="2"/>
<line x1="277.20000000000005" x2="277.20000000000005" y1="604" y2="620" stroke="#999" stroke-width="2"/>
<rect x="1763.6" y="597.5" width="15" height="28.8" rx="0.5" fill="#f4f4f4" stroke="#959595" stroke-width="2"/>
<line x1="1768.6" x2="1768.6" y1="604" y2="620" stroke="#999" stroke-width="2"/>
<line x1="1773.1999999999998" x2="1773.1999999999998" y1="604" y2="620" stroke="#999" stroke-width="2"/>
<circle cx="778" cy="724" r="11.8" fill="#ef3f3a"/>
<text x="805" y="733.8" class="leg">Blocked</text>
<circle cx="956" cy="724" r="11.8" fill="#78b52e"/>
<text x="983.3" y="733.8" class="leg">Passed</text>
<!-- footer icons -->
<g fill="none" stroke="#333" stroke-width="3.3">
<circle cx="37.5" cy="805.7" r="3.5"/>
<circle cx="48.7" cy="817.3" r="3.6"/>
</g>
<polygon points="33.9,822.4 37.8,822.4 53,800.4 49.1,800.4" fill="#333"/>
<rect x="71.1" y="801.5" width="1.8" height="26.2" fill="#aaa"/>
<rect x="89.1" y="800" width="1.8" height="22.9" fill="#aaa"/>
<rect x="89.1" y="821.1" width="29.8" height="1.8" fill="#aaa"/>
<rect x="94.7" y="811.8" width="3.4" height="6.8" fill="#aaa"/>
<rect x="100.4" y="804.1" width="3.4" height="14.5" fill="#aaa"/>
<rect x="106" y="808.1" width="3.3" height="10.5" fill="#aaa"/>
<rect x="111.5" y="802.3" width="3.4" height="16.3" fill="#aaa"/>
</svg>
</body></html>
